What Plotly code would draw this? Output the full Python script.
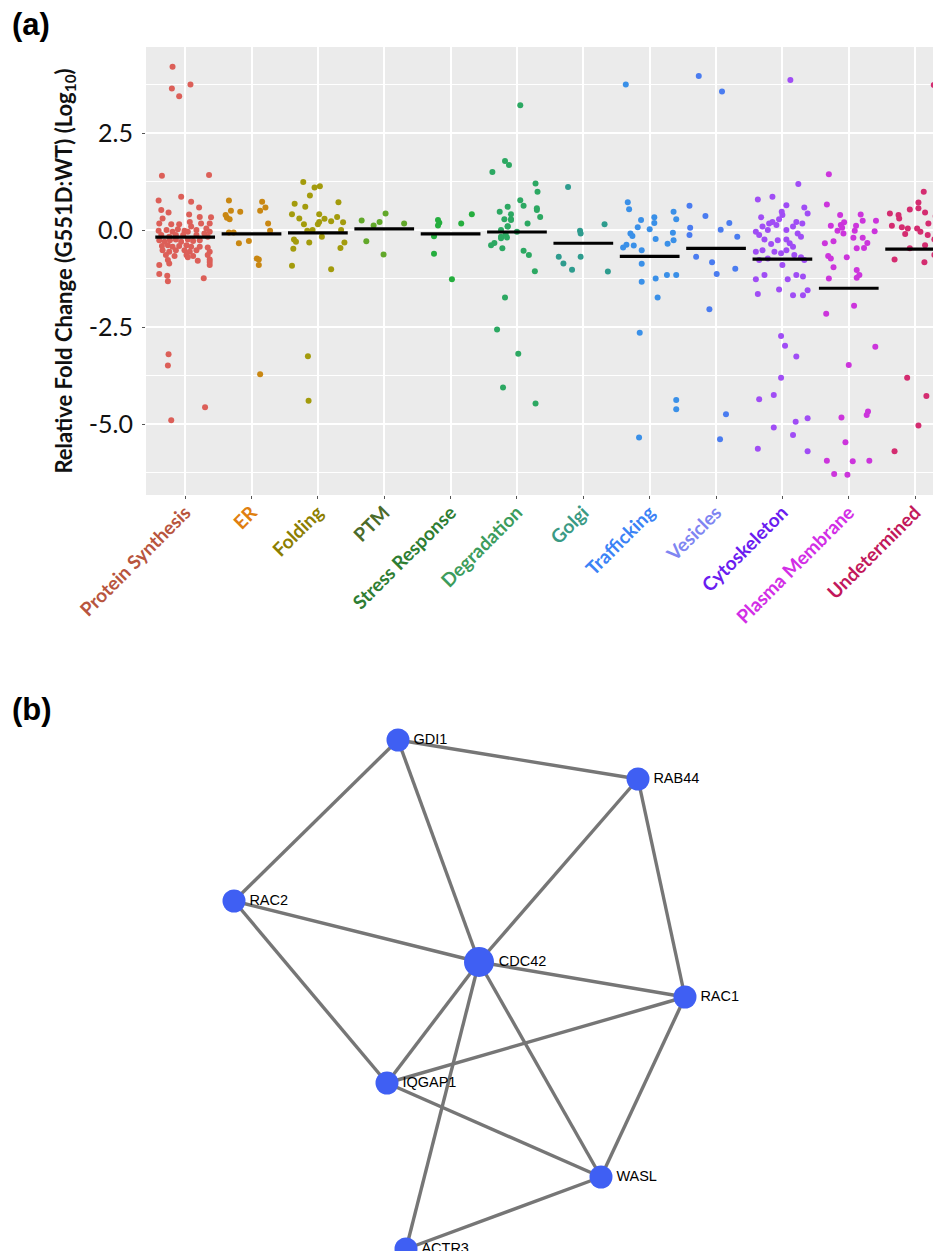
import plotly.graph_objects as go

# ---------------- Panel (a) data ----------------
categories = ["Protein Synthesis", "ER", "Folding", "PTM", "Stress Response", "Degradation",
              "Golgi", "Trafficking", "Vesicles", "Cytoskeleton", "Plasma Membrane", "Undetermined"]

label_colors = ["#B8553E", "#E07F10", "#8C7E00", "#4B6B2A", "#2E7D32", "#3C9C5C",
                "#3A9A84", "#3B82F6", "#7F86F2", "#6A1CF0", "#D22EE6", "#C2185B"]
point_colors = ["#DC5F58", "#C98712", "#A39B0C", "#62A82A", "#25AE3E", "#2CA862",
                "#2E9C8E", "#3A90E8", "#4A7CF0", "#A04DF5", "#CC35DC", "#D42C70"]

# log10 fold change values and horizontal jitter (category units)
protein_synthesis = [4.21, 3.65, 3.45, 3.75, 1.40, 1.42, -3.20, -3.49, -4.57, -4.90, -1.13, -1.18, -1.32, -1.24,
                     0.76, 0.86, 0.73, 0.52, 0.45, 0.58, 0.40, 0.33, 0.30, 0.17,
                     0.34, 0.15, 0.15, 0.21, 0.17, 0.04, 0.17, -0.02, 0.0, -0.04,
                     0.02, -0.02, 0.09, 0.0, -0.13, -0.17, -0.13, -0.13, -0.04, -0.13,
                     -0.09, -0.04, -0.26, -0.30, -0.26, -0.24, -0.30, -0.24, -0.28, -0.26,
                     -0.17, -0.41, -0.39, -0.43, -0.41, -0.39, -0.43, -0.43, -0.45, -0.52,
                     -0.56, -0.52, -0.52, -0.56, -0.52, -0.56, -0.64, -0.67, -0.64, -0.67,
                     -0.77, -0.70, -0.79, -0.64, -0.76, -0.90, -0.86, -0.90, -0.82]
protein_synthesis_jit = [-0.19, -0.20, -0.09, 0.08, -0.35, 0.36, -0.25, -0.26, 0.30, -0.21, -0.39, -0.27, -0.26, 0.28,
                         -0.40, -0.06, 0.09, -0.36, -0.25, 0.21, 0.06, 0.39, -0.34, -0.39,
                         0.22, -0.21, -0.09, 0.07, 0.24, 0.32, 0.37, -0.40, -0.28, -0.19,
                         -0.11, -0.01, 0.09, 0.17, -0.36, -0.24, -0.14, -0.03, 0.04, 0.17,
                         0.29, 0.37, -0.39, -0.31, -0.23, -0.14, -0.06, 0.04, 0.12, 0.22,
                         0.34, -0.35, -0.26, -0.19, -0.09, 0.02, 0.09, 0.22, 0.34, -0.34,
                         -0.24, -0.14, -0.01, 0.07, 0.17, 0.37, -0.29, -0.16, 0.02, 0.12,
                         -0.26, 0.04, 0.19, 0.34, 0.37, -0.39, -0.24, 0.37, 0.37]

er = [0.76, 0.73, 0.58, 0.50, 0.47, 0.50, 0.39, 0.32, 0.28, 0.17, -0.02, -0.06, -0.06, -0.34, -0.28, -0.73, -0.76, -0.90, -3.72]
er_jit = [-0.34, 0.16, 0.21, -0.31, -0.17, 0.13, -0.39, -0.37, -0.33, 0.25, 0.28, -0.34, -0.27, -0.19, -0.04, 0.08, 0.11, 0.11, 0.13]

folding = [1.24, 1.10, 1.13, 0.89, 0.72, 0.68, 0.60, 0.41, 0.41, 0.30, 0.29, 0.34, 0.21, 0.23, 0.20, 0.15, 0.15, 0.0,
           -0.02, 0.0, -0.17, -0.24, -0.30, -0.32, -0.32, -0.48, -0.46, -0.92, -1.01, -3.25, -4.40]
folding_jit = [-0.22, -0.05, 0.03, -0.12, 0.31, -0.35, -0.19, -0.39, 0.02, -0.28, 0.10, 0.29, 0.02, 0.20, 0.38, -0.21, 0.0, -0.08,
               -0.16, 0.35, 0.06, -0.36, -0.33, -0.13, 0.40, -0.37, 0.34, -0.39, 0.20, -0.15, -0.14]

ptm = [0.25, 0.12, 0.21, 0.43, 0.17, -0.29, -0.63]
ptm_jit = [-0.34, -0.16, -0.07, 0.02, 0.30, -0.27, -0.01]

stress_response = [0.26, 0.19, 0.12, 0.17, 0.41, -0.16, -0.61, -1.27]
stress_response_jit = [-0.19, -0.17, -0.19, 0.16, 0.32, -0.25, -0.25, 0.02]

degradation = [3.22, 1.50, 1.78, 1.68, 1.20, 0.77, 0.63, 0.99, 0.60, 0.47, 0.41, 0.52, 0.28, 0.28, 0.17, 0.09, 0.0,
               -0.04, -0.17, -0.19, -0.39, -0.33, -0.47, -0.53, -0.64, -1.06, -1.74, -2.56, -3.19, -4.06, -4.47,
               0.56, 0.34, 0.26, 0.10, -0.10, -0.21]
degradation_jit = [0.05, -0.37, -0.18, -0.12, 0.28, 0.05, 0.10, 0.31, -0.14, -0.26, -0.09, 0.30, -0.19, -0.09, 0.16, -0.14, -0.24,
                   0.0, -0.24, -0.15, -0.39, -0.34, -0.22, 0.10, 0.18, 0.27, -0.18, -0.30, 0.02, -0.21, 0.28,
                   0.30, 0.35, -0.09, -0.14, -0.17, -0.24]

golgi = [1.11, 0.15, -0.02, -0.09, -0.69, -0.69, -0.86, -1.02, -1.07]
golgi_jit = [-0.23, 0.32, -0.05, -0.04, -0.37, -0.04, -0.30, -0.17, 0.37]

trafficking = [3.75, 0.72, 0.54, 0.47, 0.33, 0.26, 0.28, 0.18, 0.07, 0.02, -0.09, -0.07, -0.15, -0.23, -0.26,
               -0.35, -0.45, -0.38, -0.40, -0.52, -0.87, -1.33, -1.25, -1.16, -1.16, -1.74, -2.65, -4.38, -4.62, -5.35]
trafficking_jit = [-0.36, -0.33, -0.31, 0.36, 0.07, -0.13, 0.40, 0.07, -0.18, 0.0, -0.29, 0.35, -0.26, 0.09, 0.36,
                   0.27, -0.40, -0.35, -0.24, -0.12, -0.12, -0.12, 0.09, 0.26, 0.40, 0.12, -0.15, 0.40, 0.40, -0.16]

vesicles = [3.97, 3.57, 0.63, 0.36, 0.06, 0.18, 0.01, -0.13, -0.17, -0.69, -0.83, -1.00, -1.13, -2.04, -4.75, -5.39]
vesicles_jit = [-0.26, 0.09, -0.40, -0.16, -0.39, 0.20, 0.07, -0.40, 0.32, -0.30, -0.06, 0.29, 0.01, -0.10, 0.15, 0.06]

cytoskeleton = [1.19, 0.79, 0.86, 0.64, 0.47, 0.58, 0.43, 0.33, 0.21, 0.28, 0.39, 0.17, 0.13, 0.09, 0.21, 0.17, 0.09,
                -0.04, 0.0, 0.0, -0.09, -0.13, -0.24, -0.26, -0.24, -0.34, -0.17, -0.36, -0.43, -0.52, -0.56, -0.56,
                -0.60, -0.52, -0.64, -0.70, -0.77, -0.77, -0.73, -0.90, -1.16, -1.27, -1.27, -1.16, -1.20, -1.53,
                -1.68, -1.68, -1.55, -1.65,
                3.87, -2.73, -2.98, -3.26, -3.81, -4.36, -4.25, -4.94, -4.85, -5.09, -5.28, -5.64, -5.70]
cytoskeleton_jit = [0.24, -0.37, -0.15, 0.06, -0.01, 0.33, 0.38, -0.32, -0.15, -0.05, 0.0, -0.20, -0.09, -0.30, 0.21, 0.30, 0.16,
                    -0.40, -0.22, 0.06, 0.23, -0.35, -0.27, -0.07, 0.06, 0.11, 0.28, -0.17, 0.16, -0.30, -0.40, -0.12,
                    -0.02, 0.06, 0.18, 0.28, 0.33, -0.35, -0.22, 0.0, -0.27, -0.40, 0.08, 0.21, 0.31, -0.05,
                    0.16, 0.31, 0.38, -0.37,
                    0.12, -0.02, 0.04, 0.21, -0.02, -0.35, -0.13, 0.20, 0.38, -0.13, 0.16, -0.37, 0.38]

plasma_membrane = [0.66, 0.39, 0.40, 0.24, 0.24, 0.11, 0.13, 0.20, 0.06, -0.02, 0.11, -0.02, -0.09, -0.03, -0.20,
                   -0.20, -0.34, -0.29, -0.33, -0.47, -0.46, -0.67, -0.73, -0.70, -0.96, -1.03, -1.16, -1.23, -1.25, -1.95,
                   1.44, -2.16, -3.01, -3.48, -4.68, -4.77, -4.83, -5.47, -5.95, -5.96, -5.95, -6.29, -6.31]
plasma_membrane_jit = [-0.33, -0.13, 0.18, 0.21, 0.41, -0.27, -0.12, -0.07, -0.10, -0.17, 0.11, 0.09, -0.08, 0.39, 0.07,
                       0.21, -0.36, -0.23, 0.28, 0.12, 0.23, -0.31, -0.27, -0.03, -0.23, 0.12, 0.16, 0.12, -0.30, 0.08,
                       -0.30, -0.34, 0.40, 0.0, 0.29, 0.27, -0.11, -0.05, -0.33, 0.06, 0.31, -0.22, -0.02]

undetermined = [0.99, 0.71, 0.56, 0.53, 0.43, 0.39, 0.30, 0.45, 0.36, 0.11, 0.07, 0.04, 0.04, 0.17, -0.10,
                -0.04, -0.13, -0.24, -0.34, -0.39, -0.47, -0.64, -0.77, -0.76, -0.83, 3.74, -3.81, -4.28, -5.04, -5.70]
undetermined_jit = [0.13, 0.05, 0.05, -0.08, -0.38, -0.25, -0.24, 0.15, 0.31, -0.35, -0.20, -0.11, 0.03, 0.20, -0.15,
                    0.08, 0.19, 0.29, 0.35, 0.15, -0.08, 0.29, 0.36, -0.31, 0.14, 0.28, -0.12, 0.17, 0.05, -0.31]

medians = [-0.18, -0.10, -0.07, 0.03, -0.10, -0.05, -0.34, -0.68, -0.47, -0.75, -1.50, -0.49]

y_tick_vals = [2.5, 0.0, -2.5, -5.0]
y_tick_text = ["2.5", "0.0", "-2.5", "-5.0"]

# ---------------- Panel (b) data ----------------
genes = ["GDI1", "RAB44", "RAC2", "CDC42", "RAC1", "IQGAP1", "WASL", "ACTR3"]
node_x = [398, 638, 234, 479, 685, 387, 601, 406]
node_y = [740, 779, 901, 962, 997, 1083, 1177, 1249]
node_size = [23, 23, 23, 30, 23, 23, 23, 23]
edges = [("GDI1", "RAB44"), ("GDI1", "RAC2"), ("GDI1", "CDC42"), ("RAB44", "CDC42"), ("RAB44", "RAC1"),
         ("RAC2", "CDC42"), ("RAC2", "IQGAP1"), ("CDC42", "RAC1"), ("CDC42", "IQGAP1"), ("CDC42", "WASL"),
         ("CDC42", "ACTR3"), ("RAC1", "IQGAP1"), ("RAC1", "WASL"), ("IQGAP1", "WASL"), ("WASL", "ACTR3")]

# ---------------- Build figure ----------------
series = [protein_synthesis, er, folding, ptm, stress_response, degradation,
          golgi, trafficking, vesicles, cytoskeleton, plasma_membrane, undetermined]
jitters = [protein_synthesis_jit, er_jit, folding_jit, ptm_jit, stress_response_jit, degradation_jit,
           golgi_jit, trafficking_jit, vesicles_jit, cytoskeleton_jit, plasma_membrane_jit, undetermined_jit]

fig = go.Figure()

for i, (vals, jit) in enumerate(zip(series, jitters)):
    fig.add_trace(go.Scatter(
        x=[i + j for j in jit], y=vals, mode="markers",
        marker=dict(size=6, color=point_colors[i], opacity=1, line=dict(width=0)),
        name=categories[i], showlegend=False, xaxis="x", yaxis="y"))

mx, my = [], []
for i, m in enumerate(medians):
    mx += [i - 0.45, i + 0.45, None]
    my += [m, m, None]
fig.add_trace(go.Scatter(x=mx, y=my, mode="lines", line=dict(color="black", width=3.2),
                         showlegend=False, xaxis="x", yaxis="y", hoverinfo="skip"))

# network edges
idx = {g: k for k, g in enumerate(genes)}
ex, ey = [], []
for a, b in edges:
    ex += [node_x[idx[a]], node_x[idx[b]], None]
    ey += [node_y[idx[a]], node_y[idx[b]], None]
fig.add_trace(go.Scatter(x=ex, y=ey, mode="lines", line=dict(color="#767676", width=3.4),
                         showlegend=False, xaxis="x2", yaxis="y2", hoverinfo="skip"))
fig.add_trace(go.Scatter(x=node_x, y=node_y, mode="markers+text", text=genes,
                         textposition="middle right",
                         textfont=dict(family="Liberation Sans, Arial", size=14.5, color="black"),
                         marker=dict(size=node_size, color="#3F5FF3", opacity=1, line=dict(width=0)),
                         opacity=1, showlegend=False, xaxis="x2", yaxis="y2", cliponaxis=False))

tick_text = [f'<span style="color:{c}"><b>{t}</b></span>' for t, c in zip(categories, label_colors)]

# the page body adds an 8 px margin; size the figure so that it fits the 941x1259 window
PAD = 8
SW, SH = 941, 1259            # window size
W, H = SW - PAD, SH - 2 * PAD  # figure size


def dom_x(px):
    return (px - PAD) / W


def dom_y(py):
    return 1 - (py - PAD) / H


fig.update_layout(
    template="none",
    width=W, height=H, margin=dict(l=0, r=0, t=0, b=0, autoexpand=False),
    paper_bgcolor="white", plot_bgcolor="rgba(0,0,0,0)",
    font=dict(family="Lato, Open Sans, sans-serif", color="#111111"),
    hovermode="closest",
    xaxis=dict(domain=[dom_x(146), 1.0], range=[-0.59, 11.39], tickmode="array",
               tickvals=list(range(len(categories))), ticktext=tick_text, tickangle=-45,
               tickfont=dict(size=19, family="Lato"), showgrid=True, gridcolor="white", gridwidth=1.5,
               zeroline=False, ticks="outside", ticklen=3, tickwidth=1, tickcolor="#555555", showline=False,
               ticklabelstandoff=-5,
               automargin=False, anchor="y", fixedrange=True),
    yaxis=dict(domain=[dom_y(495), dom_y(47)], range=[-6.83, 4.72], tickmode="array",
               tickvals=y_tick_vals, ticktext=y_tick_text, tickfont=dict(size=25, family="Lato", color="#111111"),
               showgrid=True, gridcolor="white", gridwidth=1.5, zeroline=False, showline=False,
               minor=dict(tickmode="linear", tick0=1.25, dtick=2.5, showgrid=True, gridcolor="white",
                          gridwidth=0.7, ticks=""),
               ticks="outside", ticklen=3, tickwidth=1, tickcolor="#555555", ticklabelstandoff=4,
               title=dict(text="<b>Relative Fold Change (G551D:WT) (Log<sub>10</sub>)</b>",
                          font=dict(size=22, family="Lato", color="#111111"), standoff=10),
               automargin=False, anchor="x", fixedrange=True),
    xaxis2=dict(domain=[0, 1], range=[PAD, PAD + W], visible=False, anchor="y2", automargin=False),
    yaxis2=dict(domain=[0, dom_y(700)], range=[PAD + H, 700], visible=False, anchor="x2", automargin=False),
    shapes=[dict(type="rect", xref="x domain", yref="y domain", x0=0, x1=1, y0=0, y1=1,
                 fillcolor="#EBEBEB", line=dict(width=0), layer="below")],
    annotations=[
        dict(text="<b>(a)</b>", x=dom_x(10), y=dom_y(5), xref="paper", yref="paper", xanchor="left",
             yanchor="top", showarrow=False, font=dict(size=31, family="Liberation Sans, Arial", color="black")),
        dict(text="<b>(b)</b>", x=dom_x(10), y=dom_y(690), xref="paper", yref="paper", xanchor="left",
             yanchor="top", showarrow=False, font=dict(size=31, family="Liberation Sans, Arial", color="black")),
    ],
)

fig.write_html("out.html")
